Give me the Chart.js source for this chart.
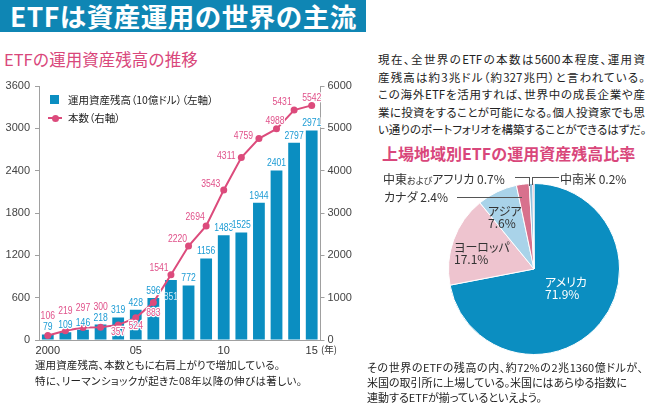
<!DOCTYPE html>
<html>
<head>
<meta charset="utf-8">
<script src="https://cdn.jsdelivr.net/npm/chart.js@4/dist/chart.umd.min.js"></script>
<style>
  html,body{margin:0;padding:0;background:#fff;}
  body{width:650px;height:410px;position:relative;overflow:hidden;font-family:'Noto Sans CJK JP','Noto Sans',sans-serif;color:#222;}
  .abs{position:absolute;white-space:nowrap;}
  #titlebar{left:0;top:0;width:366px;height:32px;background:#0f86b4;}
  #title{left:10px;top:0;height:32px;line-height:32px;color:#fff;font-size:26.5px;font-weight:bold;letter-spacing:0.5px;}
  .pinkhead{color:#d9477b;font-size:16px;}
  .jl{position:absolute;white-space:nowrap;text-align:justify;text-align-last:justify;font-feature-settings:"palt";}
  #legend1{left:50px;top:95px;width:9px;height:9px;background:#0b8ec1;}
  .legtext{font-size:10.5px;line-height:12px;color:#222;font-feature-settings:"palt";}
  .hline{position:absolute;height:0;border-top:1px solid #555;}
  .vline{position:absolute;width:0;border-left:1px solid #555;}
  .pl{position:absolute;white-space:nowrap;font-size:12px;line-height:12px;font-feature-settings:"palt";}
</style>
</head>
<body>
<div id="titlebar" class="abs"></div>
<div id="title" class="abs">ETFは資産運用の世界の主流</div>
<div class="abs pinkhead" style="left:4px;top:49px;line-height:20px;font-size:16.5px;">ETFの運用資産残高の推移</div>

<div class="abs" style="left:0;top:70px;width:360px;height:290px;">
  <canvas id="c1" width="360" height="290" style="width:360px;height:290px;"></canvas>
</div>

<div id="legend1" class="abs"></div>
<div class="abs legtext" style="left:68px;top:94px;">運用資産残高（10億ドル）（左軸）</div>
<div class="hline" style="left:48px;top:117px;width:14px;border-top:2px solid #dc4b7c;"></div>
<div class="abs" style="left:52px;top:115px;width:7px;height:7px;border-radius:50%;background:#dc4b7c;"></div>
<div class="abs legtext" style="left:68px;top:112px;">本数（右軸）</div>
<div class="abs" style="left:321px;top:343px;font-size:9.5px;line-height:12px;color:#333;">(年)</div>

<div class="jl" style="left:35px;top:357px;width:245px;font-size:10.5px;line-height:15.7px;">運用資産残高、本数ともに右肩上がりで増加している。</div>
<div class="jl" style="left:35px;top:372.7px;width:267px;font-size:10.5px;line-height:15.7px;">特に、リーマンショックが起きた08年以降の伸びは著しい。</div>

<div class="jl" style="left:378px;top:51px;width:267px;font-size:11.5px;line-height:17.5px;">現在、全世界のETFの本数は5600本程度、運用資</div>
<div class="jl" style="left:378px;top:68.5px;width:267px;font-size:11.5px;line-height:17.5px;">産残高は約3兆ドル（約327兆円）と言われている。</div>
<div class="jl" style="left:378px;top:86px;width:267px;font-size:11.5px;line-height:17.5px;">この海外ETFを活用すれば、世界中の成長企業や産</div>
<div class="jl" style="left:378px;top:103.5px;width:267px;font-size:11.5px;line-height:17.5px;">業に投資をすることが可能になる。個人投資家でも思</div>
<div class="jl" style="left:378px;top:121px;width:267px;font-size:11.5px;line-height:17.5px;">い通りのポートフォリオを構築することができるはずだ。</div>

<div class="abs pinkhead" style="left:382px;top:143px;line-height:20px;font-weight:bold;">上場地域別ETFの運用資産残高比率</div>

<div class="abs" style="left:434px;top:169px;width:200px;height:200px;">
  <canvas id="c2" width="200" height="200" style="width:200px;height:200px;"></canvas>
</div>

<div class="hline" style="left:457px;top:197px;width:65px;"></div>
<div class="hline" style="left:515px;top:177px;width:14px;"></div>
<div class="vline" style="left:529px;top:177px;height:9px;"></div>
<div class="hline" style="left:532px;top:177px;width:27px;"></div>
<div class="vline" style="left:532px;top:177px;height:8px;"></div>

<div id="pieLabels"></div>

<div class="jl" style="left:367px;top:359.5px;width:276px;font-size:11px;line-height:15px;">その世界のETFの残高の内、約72%の2兆1360億ドルが、</div>
<div class="jl" style="left:367px;top:374.5px;width:251px;font-size:11px;line-height:15px;">米国の取引所に上場している。米国にはあらゆる指数に</div>
<div class="jl" style="left:367px;top:389.5px;width:168px;font-size:11px;line-height:15px;">連動するETFが揃っているといえよう。</div>

<script>
// ---------- data ----------
const years = ['2000','2001','2002','2003','2004','2005','2006','2007','2008','2009','2010','2011','2012','2013','2014','2015'];
const xTickLabels = ['2000','','','','','05','','','','','10','','','','','15'];
const aumBillionUSD = [79,109,146,218,319,428,596,851,772,1156,1483,1525,1944,2401,2797,2971];
const etfCount = [106,219,297,300,357,524,883,1541,2220,2694,3543,4311,4759,4988,5431,5542];
const leftAxis = {min:0, max:3600, step:600};
const rightAxis = {min:0, max:6000, step:1000};

const regions = ['アメリカ','ヨーロッパ','アジア','カナダ','中東およびアフリカ','中南米'];
const regionShare = [71.9,17.1,7.6,2.4,0.7,0.2];

// ---------- label placement (styling, not data) ----------
const barLabelDy = [-7,-7,-7,-7,-7,-7,-7,17,-7,-7,-7,-7,-7,-7,-7,-7];
const lineLabelDx = [0,0,0,0,0,0,0,-12,-11,-11,-13,-15,-15.5,-1.5,-12,0];
const lineLabelDy = [-19.5,-19.7,-19,-20,7.5,8,10.7,-6.5,-6.7,-8.7,-5.7,-1.5,-2,-8,-7.7,-7];

const BLUE = '#0b8ec1', PINK = '#dc4b7c', BLUE_TXT = '#1c9bd4', PINK_TXT = '#e0518a';

function squeezeText(ctx, t, x, y, color, halo){
  ctx.save();
  ctx.translate(x, y);
  ctx.scale(0.82, 1);
  if (halo){ ctx.strokeStyle = '#fff'; ctx.lineWidth = 2.5; ctx.strokeText(t, 0, 0); }
  ctx.fillStyle = color;
  ctx.fillText(t, 0, 0);
  ctx.restore();
}

const valueLabels = {
  id: 'valueLabels',
  afterDatasetsDraw(chart){
    const ctx = chart.ctx;
    ctx.save();
    ctx.font = '10.5px "Liberation Sans", Arial, sans-serif';
    ctx.textAlign = 'center';
    ctx.textBaseline = 'middle';
    ctx.lineJoin = 'round';
    const bars = chart.getDatasetMeta(1).data;
    bars.forEach((el, i) => {
      const inside = barLabelDy[i] > 0;
      squeezeText(ctx, String(aumBillionUSD[i]), el.x, el.y + barLabelDy[i], inside ? '#cfe9f6' : BLUE_TXT, !inside);
    });
    const pts = chart.getDatasetMeta(0).data;
    pts.forEach((el, i) => {
      squeezeText(ctx, String(etfCount[i]), el.x + lineLabelDx[i], el.y + lineLabelDy[i], PINK_TXT, true);
    });
    ctx.restore();
  }
};

Chart.defaults.font.family = '"Liberation Sans", Arial, sans-serif';

new Chart(document.getElementById('c1'), {
  type: 'bar',
  data: {
    labels: years,
    datasets: [
      {
        type: 'line', label: '本数（右軸）', data: etfCount, yAxisID: 'y1',
        borderColor: PINK, backgroundColor: PINK, borderWidth: 2, tension: 0,
        pointRadius: 3.5, pointBackgroundColor: PINK, pointBorderWidth: 0, order: 1
      },
      {
        type: 'bar', label: '運用資産残高（10億ドル）（左軸）', data: aumBillionUSD, yAxisID: 'y',
        backgroundColor: BLUE, borderWidth: 0, barPercentage: 0.67, categoryPercentage: 1, order: 2
      }
    ]
  },
  options: {
    responsive: false, animation: false, devicePixelRatio: 1,
    layout: { padding: { top: 16, left: 0, right: 0, bottom: 0 } },
    plugins: { legend: { display: false }, tooltip: { enabled: false } },
    scales: {
      x: {
        offset: true,
        grid: { display: false, drawTicks: false },
        border: { color: '#a0a0a0', width: 1 },
        ticks: { autoSkip: false, maxRotation: 0, minRotation: 0, padding: 4, color: '#333', font: { size: 11 },
                 callback: (v, i) => xTickLabels[i] },
        afterFit: s => { s.height = 20; }
      },
      y: {
        position: 'left', min: leftAxis.min, max: leftAxis.max,
        ticks: { stepSize: leftAxis.step, padding: 5, color: '#444', font: { size: 11 }, callback: v => String(v) },
        grid: { drawOnChartArea: false, tickLength: 4, color: '#a0a0a0' },
        border: { color: '#a0a0a0', width: 1 },
        afterFit: s => { s.width = 39; }
      },
      y1: {
        position: 'right', min: rightAxis.min, max: rightAxis.max,
        ticks: { stepSize: rightAxis.step, padding: 3, color: '#444', font: { size: 11 }, callback: v => String(v) },
        grid: { drawOnChartArea: false, tickLength: 4, color: '#a0a0a0' },
        border: { color: '#a0a0a0', width: 1 },
        afterFit: s => { s.width = 39.5; }
      }
    }
  },
  plugins: [valueLabels]
});

new Chart(document.getElementById('c2'), {
  type: 'pie',
  data: {
    labels: regions,
    datasets: [{
      data: regionShare,
      backgroundColor: ['#0b8ec1','#eec4cf','#a9d3e9','#d8718d','#8fbfdc','#d9476f'],
      borderColor: '#ffffff', borderWidth: 1
    }]
  },
  options: {
    responsive: false, animation: false, devicePixelRatio: 1,
    radius: 85.5, rotation: 0,
    layout: { padding: 0 },
    plugins: { legend: { display: false }, tooltip: { enabled: false } }
  }
});

// pie labels (text from the data arrays)
const pieLabelPos = [
  {left:545, top:276, color:'#fff', two:true},
  {left:454, top:241, color:'#333', two:true},
  {left:488, top:205, color:'#333', two:true},
  {left:384, top:191, color:'#333', two:false},
  {left:383, top:173, color:'#333', two:false},
  {left:560, top:173, color:'#333', two:false}
];
const holder = document.getElementById('pieLabels');
regions.forEach((r, i) => {
  const p = pieLabelPos[i];
  const d = document.createElement('div');
  d.className = 'pl';
  d.style.left = p.left + 'px';
  d.style.top = p.top + 'px';
  d.style.color = p.color;
  const name = r.replace('および', '<span style="font-size:9px">および</span>');
  d.innerHTML = p.two ? name + '<br>' + regionShare[i].toFixed(1) + '%' : name + ' ' + regionShare[i].toFixed(1) + '%';
  holder.appendChild(d);
});
</script>
</body>
</html>
